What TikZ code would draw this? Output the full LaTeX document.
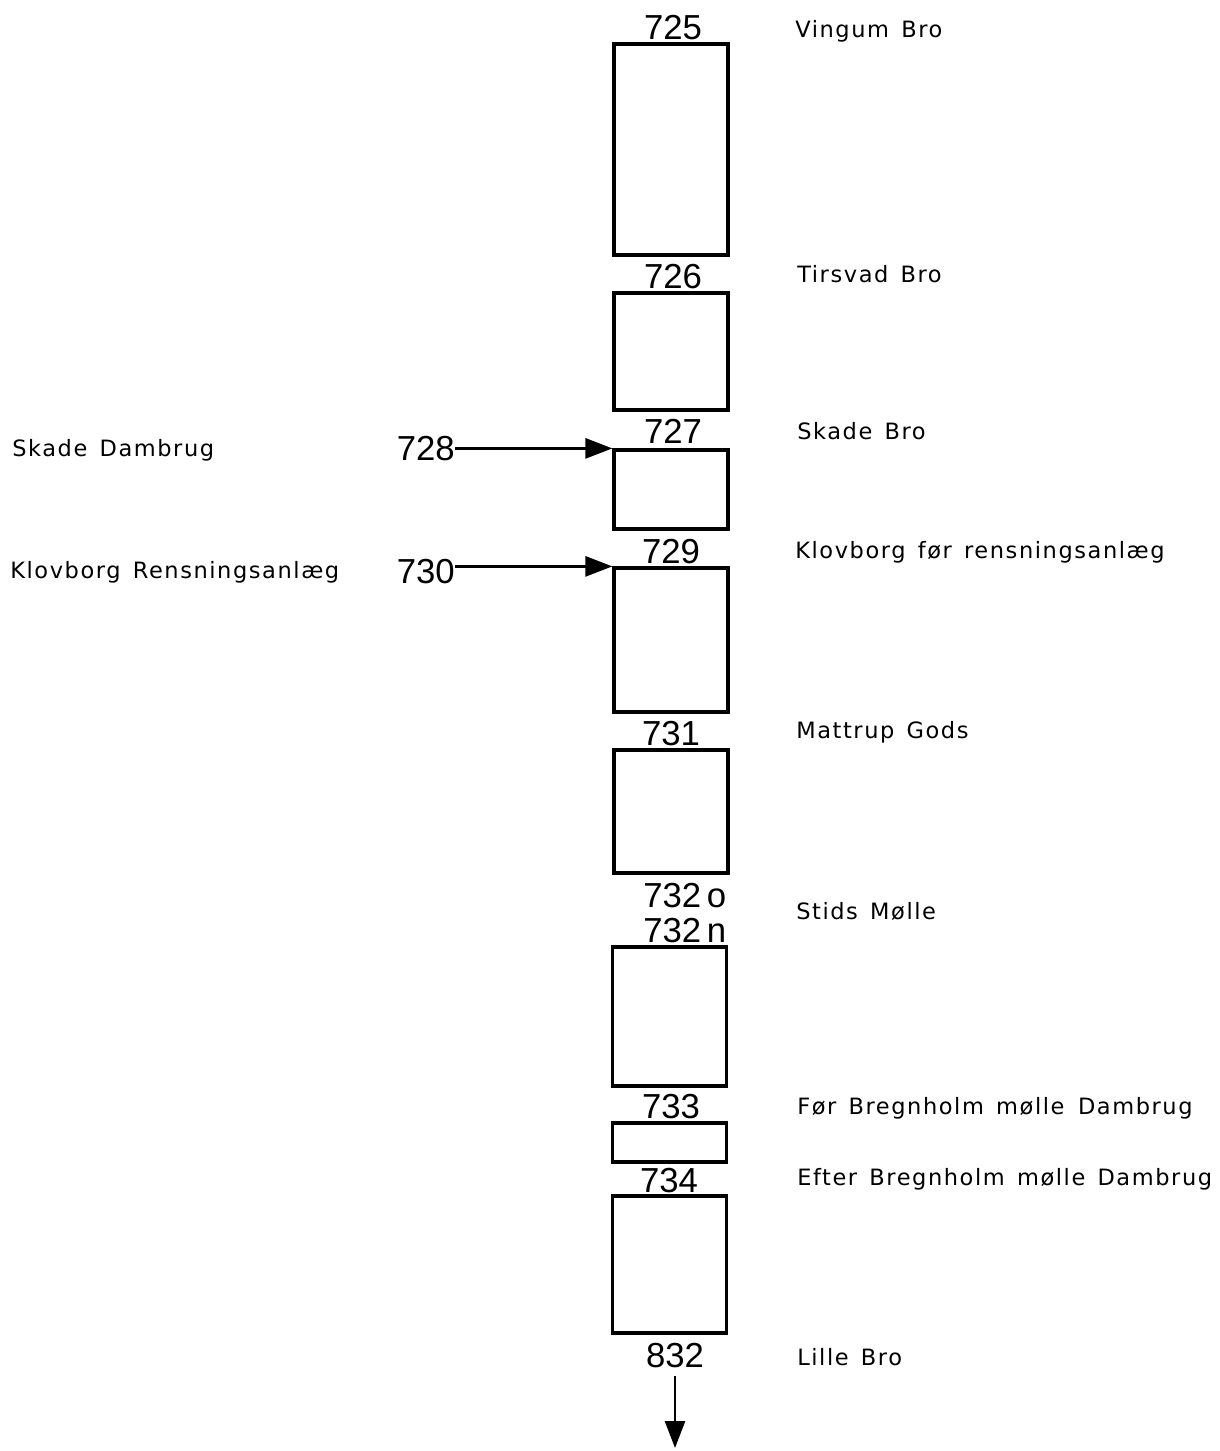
\documentclass[tikz,border=0pt]{standalone}
\usepackage{fontspec}
\setmainfont{Liberation Sans}
\newfontfamily\stationfont[LetterSpace=7, WordSpace=1.4]{DejaVu Sans}
\usetikzlibrary{arrows.meta, positioning}

\begin{document}
\begin{tikzpicture}[x=0.025cm, y=-0.025cm,
    segbox/.style={draw, line width=0.08cm, minimum width=2.85cm, inner sep=0pt},
    num/.style={font=\fontsize{24.7}{28}\selectfont, inner sep=0pt, anchor=base},
    place/.style={font=\stationfont\fontsize{16}{19}\selectfont, inner sep=0pt, anchor=base west},
    flow/.style={line width=0.07cm, -{Triangle[length=0.675cm, width=0.5cm]}}]
    \useasboundingbox (0,0) rectangle (1220,1451);

    % River segments
    \node[segbox, minimum height=5.275cm] (b725) at (671,149.5) {};
    \node[segbox, minimum height=2.925cm] (b726) at (671,351.5) {};
    \node[segbox, minimum height=1.975cm] (b727) at (671,489.5) {};
    \node[segbox, minimum height=3.6cm]   (b729) at (671,640) {};
    \node[segbox, minimum height=3.075cm] (b731) at (671,811.5) {};
    \node[segbox, minimum height=3.475cm] (b732) at (669.5,1016.5) {};
    \node[segbox, minimum height=0.975cm] (b733) at (669.5,1142.5) {};
    \node[segbox, minimum height=3.425cm] (b734) at (669.5,1264.5) {};

    % Station numbers
    \node[num] (n725) at (673,40) {725};
    \node[num] (n726) at (673,288) {726};
    \node[num] (n727) at (673,443) {727};
    \node[num] (n729) at (671,563) {729};
    \node[num] (n731) at (671,745) {731};
    \node[num, anchor=base west] (n732o) at (643,907) {732\,o};
    \node[num, anchor=base west] (n732n) at (643,942) {732\,n};
    \node[num] (n733) at (671,1118) {733};
    \node[num] (n734) at (669,1192) {734};
    \node[num] (n832) at (675,1367) {832};

    % Station names
    \node[place] (p725) at (795,38) {Vingum Bro};
    \node[place] (p726) at (797,282) {Tirsvad Bro};
    \node[place] (p727) at (797,439) {Skade Bro};
    \node[place] (p729) at (795,558) {Klovborg før rensningsanlæg};
    \node[place] (p731) at (796,738) {Mattrup Gods};
    \node[place] (p732) at (796,919) {Stids Mølle};
    \node[place] (p733) at (797,1114) {Før Bregnholm mølle\hspace{0.6em}Dambrug};
    \node[place] (p734) at (797,1185) {Efter Bregnholm mølle Dambrug};
    \node[place] (p832) at (797,1365) {Lille Bro};

    % Inflows
    \node[place] (p728) at (12,456) {Skade Dambrug};
    \node[place] (p730) at (10,578) {Klovborg Rensningsanlæg};
    \node[num, anchor=base east] (n728) at (455,460) {728};
    \node[num, anchor=base east] (n730) at (455,583) {730};
    \draw[flow] (n728.east |- b727.north west) -- (b727.north west);
    \draw[flow] (n730.east |- b729.north west) -- (b729.north west);

    % Outflow
    \coordinate (outlet) at (675,1448);
    \draw[flow, shorten <=0.2cm] (n832.south) -- (outlet);
\end{tikzpicture}
\end{document}
